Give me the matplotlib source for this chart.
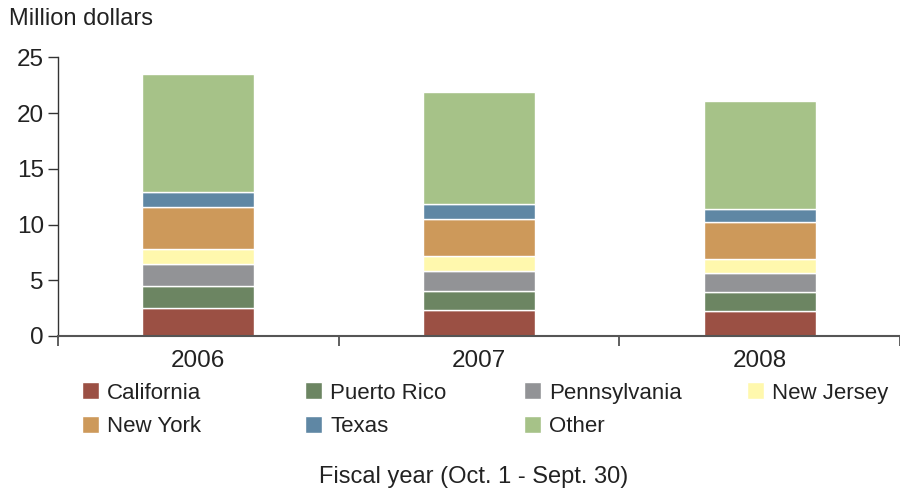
import matplotlib
matplotlib.use('Agg')
import matplotlib.pyplot as plt
import numpy as np

plt.rcParams['font.family'] = ['Liberation Sans', 'DejaVu Sans']

years = ['2006', '2007', '2008']
states = ['California', 'Puerto Rico', 'Pennsylvania', 'New Jersey', 'New York', 'Texas', 'Other']
california = [2.48, 2.33, 2.21]
puerto_rico = [2.0, 1.74, 1.74]
pennsylvania = [1.98, 1.76, 1.73]
new_jersey = [1.37, 1.34, 1.22]
new_york = [3.74, 3.32, 3.32]
texas = [1.33, 1.35, 1.20]
other = [10.6, 10.06, 9.68]
colors = ['#9b5044', '#6c8562', '#929396', '#fff8ad', '#cd995a', '#5f87a4', '#a6c288']

series = [california, puerto_rico, pennsylvania, new_jersey, new_york, texas, other]

fig = plt.figure(figsize=(9, 4.91), dpi=100)
ax = fig.add_axes([0.0644, 0.3157, 0.9356, 0.5676])

x = np.arange(len(years))
bottom = np.zeros(len(years))
for name, vals, c in zip(states, series, colors):
    ax.bar(x, vals, 0.4, bottom=bottom, color=c, edgecolor='white', linewidth=1, label=name)
    bottom += np.array(vals)

ax.set_xlim(-0.5, 2.5)
ax.set_ylim(0, 25)
ax.set_yticks([0, 5, 10, 15, 20, 25])
ax.set_xticks(x)
ax.set_xticklabels(years)
ax.set_xticks([-0.5, 0.5, 1.5, 2.5], minor=True)

for s in ['top', 'right']:
    ax.spines[s].set_visible(False)
ax.spines['left'].set_color('#333333')
ax.spines['left'].set_linewidth(1)
ax.spines['bottom'].set_color('#555555')
ax.spines['bottom'].set_linewidth(1.5)

ax.tick_params(axis='y', direction='out', length=7.2, width=1, color='#333333',
               labelsize=17.5, pad=3, labelcolor='#222222')
ax.tick_params(axis='x', which='major', length=0, labelsize=17.5, pad=10, labelcolor='#222222')
ax.tick_params(axis='x', which='minor', direction='out', length=7.2, width=1.2, color='#444444')

fig.text(0.01, 0.962, 'Million dollars', fontsize=17, color='#222222', va='center', ha='left')

# legend laid out row by row, four fixed columns
handles, labels = ax.get_legend_handles_labels()
col_x = [0.0911, 0.3389, 0.5822, 0.83]
for i, cx in enumerate(col_x):
    idx = [k for k in (i, i + 4) if k < len(handles)]
    fig.legend([handles[k] for k in idx], [labels[k] for k in idx],
               loc='upper left', bbox_to_anchor=(cx, 0.221), frameon=False,
               fontsize=16, handlelength=0.77, handleheight=0.77,
               handletextpad=0.37, labelspacing=0.58, borderpad=0, borderaxespad=0,
               labelcolor='#222222')

fig.text(0.526, 0.0285, 'Fiscal year (Oct. 1 - Sept. 30)', fontsize=17, color='#222222',
         ha='center', va='center')

fig.savefig('out.png', dpi=100)
